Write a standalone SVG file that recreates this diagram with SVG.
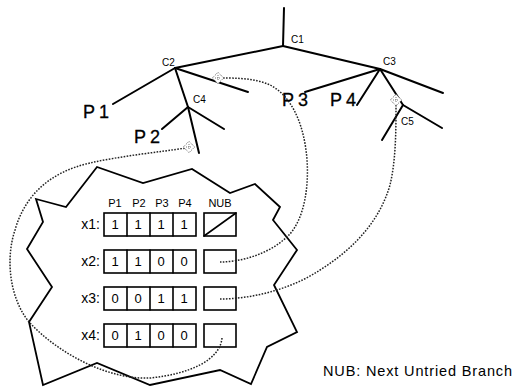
<svg xmlns="http://www.w3.org/2000/svg" width="529" height="387" viewBox="0 0 529 387">
<style>
.t{stroke:#000;stroke-width:2;fill:none;stroke-linecap:round}
.poly{stroke:#000;stroke-width:1.8;fill:none;stroke-linejoin:miter}
.dot{stroke:#222;stroke-width:1.5;fill:none;stroke-dasharray:1.6 1.4}
.box{stroke:#000;stroke-width:1.6;fill:#fff}
.cl{font-family:"Liberation Sans",Arial,sans-serif;font-size:10px;fill:#000}
.pl{font-family:"Liberation Sans",Arial,sans-serif;font-size:18px;fill:#000;letter-spacing:4px;stroke:#000;stroke-width:0.3}
.hd{font-family:"Liberation Sans",Arial,sans-serif;font-size:11px;fill:#000;text-anchor:middle}
.rl{font-family:"Liberation Sans",Arial,sans-serif;font-size:14px;fill:#000;text-anchor:end}
.cv{font-family:"Liberation Sans",Arial,sans-serif;font-size:13px;fill:#000;text-anchor:middle}
.lg{font-family:"Liberation Sans",Arial,sans-serif;font-size:14.5px;fill:#000}
.mk{stroke:#444;stroke-width:0.8;fill:#fff;stroke-dasharray:1 1}
</style>
<defs>
<g id="marker"><rect x="-4" y="-4" width="8" height="8" class="mk" transform="rotate(45)"/><path d="M-3,0 L3,0 M0,-3 L0,3" stroke="#555" stroke-width="0.8" stroke-dasharray="1 1"/></g>
</defs>

<g id="tree">
<line class="t" x1="284" y1="8" x2="283" y2="46"/>
<line class="t" x1="283" y1="46" x2="175" y2="68"/>
<line class="t" x1="283" y1="46" x2="380" y2="69"/>
<line class="t" x1="175" y1="68" x2="113" y2="104"/>
<line class="t" x1="175" y1="68" x2="248" y2="92"/>
<line class="t" x1="175" y1="68" x2="188" y2="107"/>
<line class="t" x1="188" y1="107" x2="199" y2="153"/>
<line class="t" x1="188" y1="107" x2="162" y2="129"/>
<line class="t" x1="188" y1="107" x2="224" y2="129"/>
<line class="t" x1="380" y1="69" x2="305" y2="92"/>
<line class="t" x1="380" y1="69" x2="357" y2="105"/>
<line class="t" x1="380" y1="69" x2="443" y2="93"/>
<line class="t" x1="380" y1="69" x2="403" y2="105"/>
<line class="t" x1="403" y1="105" x2="442" y2="128"/>
<line class="t" x1="403" y1="105" x2="382" y2="140"/>
</g>

<g id="C1"><text class="cl" x="291" y="43">C1</text></g>
<g id="C2"><text class="cl" x="162" y="66">C2</text></g>
<g id="C3"><text class="cl" x="383" y="65">C3</text></g>
<g id="C4"><text class="cl" x="193" y="103">C4</text></g>
<g id="C5"><text class="cl" x="401" y="125">C5</text></g>
<g id="P1"><text class="pl" x="83" y="118">P1</text></g>
<g id="P2"><text class="pl" x="134" y="143">P2</text></g>
<g id="P3"><text class="pl" x="282" y="106">P3</text></g>
<g id="P4"><text class="pl" x="330" y="106">P4</text></g>

<g id="boundary">
<polygon class="poly" points="36,199 66,207 97,167 143,183 192,169 230,193 255,184 280,207 273,220 297,250 274,285 297,332 267,347 251,384 220,370 150,385 97,363 43,385 29,322 52,287 27,249 43,222"/>
</g>

<g id="table">
<text class="hd" x="115" y="207">P1</text>
<text class="hd" x="139" y="207">P2</text>
<text class="hd" x="162" y="207">P3</text>
<text class="hd" x="185" y="207">P4</text>
<text class="hd" x="220" y="207">NUB</text>
<g id="x1">
<text class="rl" x="100" y="229">x1:</text>
<rect class="box" x="104" y="213" width="92" height="23"/>
<path class="t" style="stroke-width:1.6" d="M127,213V236M150,213V236M173,213V236"/>
<text class="cv" x="115" y="229">1</text><text class="cv" x="138" y="229">1</text><text class="cv" x="161" y="229">1</text><text class="cv" x="184" y="229">1</text>
<rect class="box" x="204" y="213" width="32" height="23"/>
<line class="t" style="stroke-width:1.6" x1="204" y1="236" x2="236" y2="213"/>
</g>
<g id="x2">
<text class="rl" x="100" y="266">x2:</text>
<rect class="box" x="104" y="250" width="92" height="23"/>
<path class="t" style="stroke-width:1.6" d="M127,250V273M150,250V273M173,250V273"/>
<text class="cv" x="115" y="266">1</text><text class="cv" x="138" y="266">1</text><text class="cv" x="161" y="266">0</text><text class="cv" x="184" y="266">0</text>
<rect class="box" x="204" y="250" width="32" height="23"/>
</g>
<g id="x3">
<text class="rl" x="100" y="303">x3:</text>
<rect class="box" x="104" y="287" width="92" height="23"/>
<path class="t" style="stroke-width:1.6" d="M127,287V310M150,287V310M173,287V310"/>
<text class="cv" x="115" y="303">0</text><text class="cv" x="138" y="303">0</text><text class="cv" x="161" y="303">1</text><text class="cv" x="184" y="303">1</text>
<rect class="box" x="204" y="287" width="32" height="23"/>
</g>
<g id="x4">
<text class="rl" x="100" y="340">x4:</text>
<rect class="box" x="104" y="324" width="92" height="23"/>
<path class="t" style="stroke-width:1.6" d="M127,324V347M150,324V347M173,324V347"/>
<text class="cv" x="115" y="340">0</text><text class="cv" x="138" y="340">1</text><text class="cv" x="161" y="340">0</text><text class="cv" x="184" y="340">0</text>
<rect class="box" x="204" y="324" width="32" height="23"/>
</g>
</g>

<g id="connectors">
<path class="dot" d="M220,262 C240,262 268,255 288,236 C306,218 310,180 306,150 C302,120 290,95 270,85 C255,78 235,78 222,78"/>
<path class="dot" d="M220,299 C250,299 290,290 320,270 C355,248 380,220 390,185 C396,160 396,130 396,104"/>
<path class="dot" d="M222,338 C220,360 190,374 150,378 C110,380 60,355 30,323 C10,300 5,260 15,230 C25,195 50,172 90,163 C120,156 160,152 186,148"/>
<use href="#marker" x="218" y="78"/>
<use href="#marker" x="189" y="147"/>
<use href="#marker" x="396" y="100"/>
</g>

<g id="legend"><text class="lg" x="323" y="376" textLength="189" lengthAdjust="spacing">NUB: Next Untried Branch</text></g>
</svg>
